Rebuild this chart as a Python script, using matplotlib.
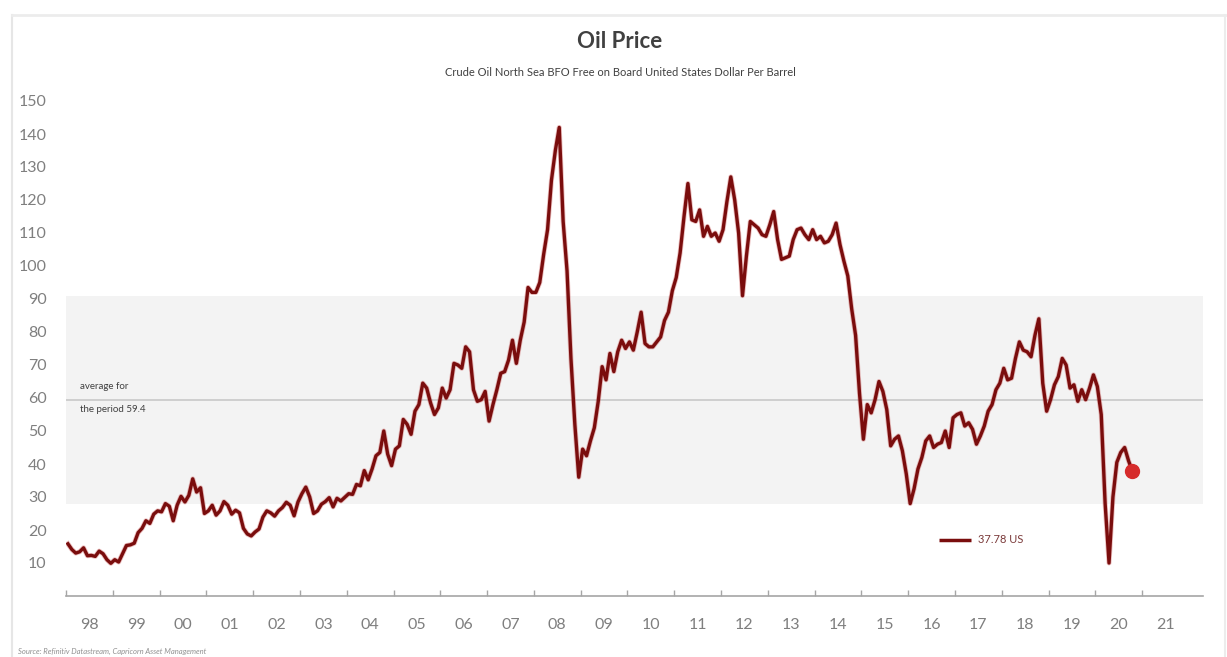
import matplotlib
matplotlib.use("Agg")
import matplotlib.pyplot as plt
import numpy as np
from matplotlib.lines import Line2D

plt.rcParams['font.family'] = ['Lato', 'DejaVu Sans']

start_year = 1998
# Monthly Brent (BFO) values, USD per barrel, Jan 1998 .. Oct 2020
p1998 = [15.8, 14.1, 13.0, 13.4, 14.6, 12.2, 12.3, 12.0, 13.6, 12.8, 11.0, 9.9]
p1999 = [11.0, 10.3, 12.8, 15.3, 15.5, 16.0, 19.2, 20.5, 22.8, 22.0, 24.8, 25.8]
p2000 = [25.5, 28.0, 27.2, 22.8, 27.5, 30.2, 28.5, 30.5, 35.5, 31.5, 32.8, 25.0]
p2001 = [25.8, 27.5, 24.5, 25.8, 28.6, 27.5, 24.8, 26.0, 25.2, 20.5, 18.8, 18.2]
p2002 = [19.4, 20.3, 23.9, 25.8, 25.2, 24.2, 25.8, 26.8, 28.4, 27.5, 24.3, 28.5]
p2003 = [31.0, 33.0, 30.0, 25.0, 25.8, 27.8, 28.6, 29.8, 27.0, 29.6, 28.8, 29.9]
p2004 = [31.0, 30.8, 33.8, 33.4, 38.0, 35.2, 38.5, 42.5, 43.5, 50.0, 43.0, 39.5]
p2005 = [44.5, 45.5, 53.5, 52.0, 49.0, 56.0, 58.0, 64.5, 63.0, 58.5, 55.0, 57.0]
p2006 = [63.0, 60.0, 62.5, 70.5, 70.0, 69.0, 75.5, 74.0, 62.5, 59.0, 59.5, 62.0]
p2007 = [53.0, 58.0, 62.5, 67.5, 68.0, 71.5, 77.5, 70.5, 77.5, 83.0, 93.5, 92.0]
p2008 = [92.0, 95.0, 103.5, 111.0, 126.0, 135.0, 142.0, 113.5, 98.5, 72.0, 52.0, 36.0]
p2009 = [44.5, 42.5, 47.0, 51.0, 59.0, 69.5, 65.5, 73.5, 68.0, 74.0, 77.5, 75.0]
p2010 = [77.0, 74.5, 80.0, 86.0, 76.5, 75.5, 75.5, 77.0, 78.5, 83.5, 86.0, 92.5]
p2011 = [96.5, 104.0, 115.0, 125.0, 114.0, 113.5, 117.0, 109.0, 112.0, 109.0, 110.0, 107.5]
p2012 = [111.0, 119.5, 127.0, 120.0, 110.0, 91.0, 103.0, 113.5, 112.5, 111.5, 109.5, 109.0]
p2013 = [112.5, 116.5, 108.0, 102.0, 102.5, 103.0, 108.0, 111.0, 111.5, 109.5, 108.0, 111.0]
p2014 = [108.0, 109.0, 107.0, 107.5, 109.5, 113.0, 106.5, 101.5, 97.0, 87.0, 79.0, 61.5]
p2015 = [47.5, 58.0, 55.5, 59.5, 65.0, 62.0, 56.5, 45.5, 47.5, 48.5, 44.0, 37.0]
p2016 = [28.0, 32.5, 38.5, 42.0, 47.0, 48.5, 45.0, 46.0, 46.5, 50.0, 45.0, 54.0]
p2017 = [55.0, 55.5, 51.5, 52.5, 50.5, 46.0, 48.5, 51.5, 56.0, 58.0, 62.5, 64.5]
p2018 = [69.0, 65.5, 66.0, 72.0, 77.0, 74.5, 74.0, 72.5, 79.0, 84.0, 64.5, 56.0]
p2019 = [59.5, 64.0, 66.5, 72.0, 70.0, 63.0, 64.0, 59.0, 62.5, 59.5, 63.0, 67.0]
p2020 = [63.5, 55.0, 28.0, 10.0, 30.0, 40.5, 43.5, 45.0, 41.0, 37.78]

prices = (p1998 + p1999 + p2000 + p2001 + p2002 + p2003 + p2004 + p2005 +
          p2006 + p2007 + p2008 + p2009 + p2010 + p2011 + p2012 + p2013 +
          p2014 + p2015 + p2016 + p2017 + p2018 + p2019 + p2020)
dates = start_year + (np.arange(len(prices)) + 0.5) / 12.0

average = 59.4
band_low, band_high = 28.0, 91.0
last_label = "37.78 US"
years = list(range(1998, 2022))
year_labels = [f"{y % 100:02d}" for y in years]
y_ticks = list(range(10, 151, 10))

title = "Oil Price"
subtitle = "Crude Oil North Sea BFO Free on Board United States Dollar Per Barrel"
source = "Source: Refinitiv Datastream, Capricorn Asset Management"

W, H = 1227, 657
fig = plt.figure(figsize=(W / 100, H / 100), dpi=100)
fig.patch.set_facecolor('white')

# faint outer frame
fig.add_artist(Line2D([12 / W, 12 / W], [1 - 15 / H, 0], color='#e6e6e6', lw=1.5, transform=fig.transFigure))
fig.add_artist(Line2D([12 / W, 1225 / W], [1 - 15 / H, 1 - 15 / H], color='#ececec', lw=2, transform=fig.transFigure))
fig.add_artist(Line2D([1225 / W, 1225 / W], [1 - 15 / H, 0], color='#ececec', lw=1.5, transform=fig.transFigure))

ax = fig.add_axes([66 / W, 1 - 596 / H, (1203 - 66) / W, (596 - 101) / H])
ax.set_xlim(1998, 2022.3)
ax.set_ylim(0, 150)

ax.axhspan(band_low, band_high, color='#f3f3f3', zorder=0, lw=0)
ax.axhline(average, color='#c8c8c8', lw=1.2, zorder=1)

ax.plot(dates, prices, color='#c03030', lw=3.6, alpha=0.3, zorder=2, solid_joinstyle='round')
ax.plot(dates, prices, color='#7a0d0d', lw=2.4, zorder=3, solid_joinstyle='round')
ax.plot([dates[-1]], [prices[-1]], 'o', color='#d62b2b', ms=10, zorder=4, mec='#d62b2b')

for s in ['top', 'right', 'left']:
    ax.spines[s].set_visible(False)
ax.spines['bottom'].set_color('#a6a6a6')
ax.spines['bottom'].set_linewidth(1.2)

ax.set_xticks(years)
ax.set_xticklabels([])
ax.tick_params(axis='x', which='major', direction='in', length=4, color='#a6a6a6', width=1)
ax.set_xticks([y + 0.5 for y in years], minor=True)
ax.set_xticklabels(year_labels, minor=True)
ax.tick_params(axis='x', which='minor', length=0, pad=16, labelsize=11.5, labelcolor='#7f7f7f')

ax.set_yticks(y_ticks)
ax.set_yticklabels([str(v) for v in y_ticks])
ax.tick_params(axis='y', length=0, pad=14, labelsize=11.5, labelcolor='#7f7f7f')

ax.text(1998.3, 63.5, "average for", fontsize=7, color='#404040', va='center', ha='left')
ax.text(1998.3, 56.5, "the period 59.4", fontsize=7, color='#404040', va='center', ha='left')

# legend-like marker for last value
ax.plot([2016.65, 2017.35], [17.0, 17.0], color='#7a0d0d', lw=2.5, solid_capstyle='butt')
ax.text(2017.5, 17.0, last_label, fontsize=8, color='#7b3a3a', va='center', ha='left')

fig.text(620 / W, 1 - 42 / H, title, fontsize=16, fontweight='bold', color='#404040', ha='center', va='center')
fig.text(620 / W, 1 - 72 / H, subtitle, fontsize=8, color='#404040', ha='center', va='center')
fig.text(18 / W, 1 - 651 / H, source, fontsize=5.5, style='italic', color='#909090', ha='left', va='center')

fig.savefig('out.png', dpi=100, facecolor='white')
